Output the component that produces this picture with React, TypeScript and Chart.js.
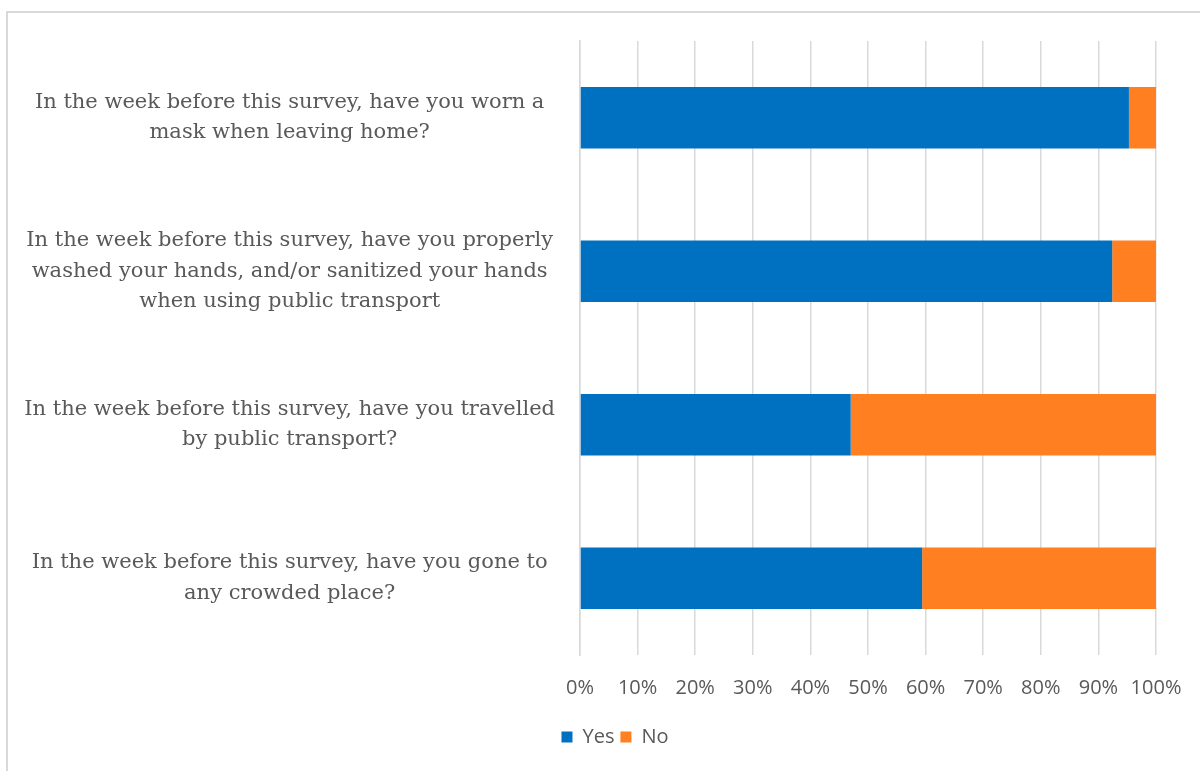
import React, { useEffect, useRef } from "react";
import { Chart, registerables } from "chart.js";

Chart.register(...registerables);

const categories: string[][] = [
  ["In the week before this survey, have you worn a", "mask when leaving home?"],
  [
    "In the week before this survey, have you properly",
    "washed your hands, and/or sanitized your hands",
    "when using public transport",
  ],
  ["In the week before this survey, have you travelled", "by public transport?"],
  ["In the week before this survey, have you gone to", "any crowded place?"],
];

const yesValues = [95.3, 92.4, 47.0, 59.4];
const noValues = [4.7, 7.6, 53.0, 40.6];

const seriesNames = ["Yes", "No"];
const seriesColors = ["#0070C0", "#FF7F21"];
const xTicks = [0, 10, 20, 30, 40, 50, 60, 70, 80, 90, 100];

const legendShift = {
  id: "legendShift",
  afterLayout(chart: any) {
    const l = chart.legend;
    if (l) {
      l.left += 27;
      l.right += 27;
    }
  },
};

export default function App() {
  const ref = useRef<HTMLCanvasElement>(null);

  useEffect(() => {
    document.body.style.margin = "0";
    const ctx = ref.current!;
    const chart = new Chart(ctx, {
      type: "bar",
      data: {
        labels: categories,
        datasets: [
          {
            label: seriesNames[0],
            data: yesValues,
            backgroundColor: seriesColors[0],
            borderWidth: 0,
            barPercentage: 0.4,
            categoryPercentage: 1,
          },
          {
            label: seriesNames[1],
            data: noValues,
            backgroundColor: seriesColors[1],
            borderWidth: 0,
            barPercentage: 0.4,
            categoryPercentage: 1,
          },
        ],
      },
      options: {
        indexAxis: "y",
        responsive: false,
        animation: false,
        layout: { padding: { top: 41, left: 20, right: 44, bottom: 14 } },
        plugins: {
          tooltip: { enabled: false },
          legend: {
            position: "bottom",
            labels: {
              boxWidth: 11,
              boxHeight: 11,
              padding: 6,
              color: "#595959",
              font: { family: "'Open Sans', 'Liberation Sans', sans-serif", size: 20 },
            },
          },
        },
        scales: {
          x: {
            stacked: true,
            min: 0,
            max: 100,
            afterBuildTicks: (axis: any) => {
              axis.ticks = xTicks.map((v) => ({ value: v }));
            },
            afterFit: (axis: any) => {
              axis.paddingLeft = 0;
              axis.paddingRight = 0;
            },
            ticks: {
              callback: (v: any) => v + "%",
              color: "#595959",
              padding: 21,
              maxRotation: 0,
              autoSkip: false,
              font: { family: "'Open Sans', 'Liberation Sans', sans-serif", size: 20 },
            },
            grid: { color: "#d9d9d9", lineWidth: 1.5, drawTicks: false },
            border: { display: false },
          },
          y: {
            stacked: true,
            afterFit: (axis: any) => {
              axis.width = 560;
              axis.paddingTop = 0;
              axis.paddingBottom = 0;
            },
            ticks: {
              crossAlign: "center",
              padding: 25,
              color: "#595959",
              font: { family: "'DejaVu Serif', serif", size: 21, lineHeight: 1.45 },
            },
            grid: { display: false, drawTicks: false },
            border: { display: true, color: "#d9d9d9", width: 1.5 },
          },
        },
      },
      plugins: [legendShift],
    });
    return () => chart.destroy();
  }, []);

  return (
    <div style={{ position: "relative", width: 1200, height: 771, overflow: "hidden", background: "#fff" }}>
      <div
        style={{
          position: "absolute",
          left: 6,
          top: 11,
          width: 1300,
          height: 900,
          borderLeft: "2px solid #d9d9d9",
          borderTop: "2px solid #d9d9d9",
        }}
      />
      <canvas ref={ref} width={1200} height={771} style={{ position: "absolute", left: 0, top: 0 }} />
    </div>
  );
}
